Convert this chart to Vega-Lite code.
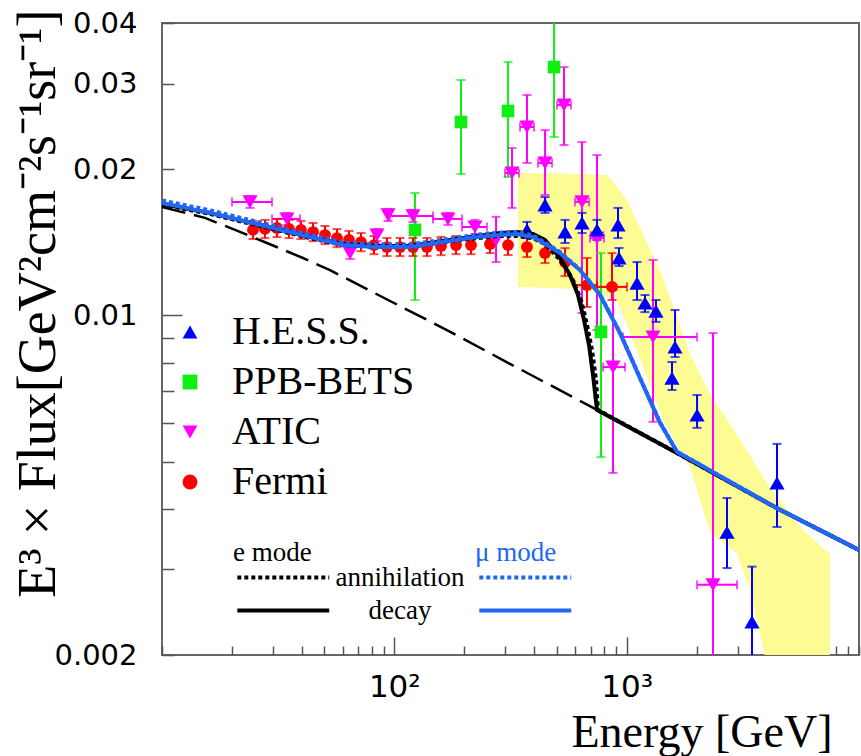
{
  "$schema": "https://vega.github.io/schema/vega-lite/v6.json",
  "width": 697,
  "height": 632,
  "autosize": {"type": "none"},
  "padding": {"left": 162, "top": 23, "right": 2, "bottom": 101},
  "background": "white",
  "datasets": {
    "band": [
      {"E": 340.7, "top": 0.01965, "bot": 0.01145},
      {"E": 629.8, "top": 0.01955, "bot": 0.01134},
      {"E": 823.0, "top": 0.01946, "bot": 0.01097},
      {"E": 908.8, "top": 0.01839, "bot": 0.01076},
      {"E": 1003, "top": 0.01729, "bot": 0.00956},
      {"E": 1224, "top": 0.01410, "bot": 0.00747},
      {"E": 1434, "top": 0.01194, "bot": 0.00609},
      {"E": 1697, "top": 0.00956, "bot": 0.00528},
      {"E": 1873, "top": 0.00833, "bot": 0.00488},
      {"E": 2285, "top": 0.00689, "bot": 0.00357},
      {"E": 2985, "top": 0.00568, "bot": 0.00324},
      {"E": 3396, "top": 0.00514, "bot": 0.00272},
      {"E": 3938, "top": 0.00458, "bot": 0.00199},
      {"E": 5574, "top": 0.00367, "bot": 0.00106},
      {"E": 7140, "top": 0.00329, "bot": 0.00079},
      {"E": 7505, "top": 0.00324, "bot": 0.00076}
    ],
    "points": [
      {"exp": "Fermi", "E": 24.64, "F": 0.01500, "lo": 0.01437, "hi": 0.01566},
      {"exp": "Fermi", "E": 27.75, "F": 0.01507, "lo": 0.01443, "hi": 0.01573},
      {"exp": "Fermi", "E": 31.26, "F": 0.01514, "lo": 0.01450, "hi": 0.01581},
      {"exp": "Fermi", "E": 35.21, "F": 0.01507, "lo": 0.01443, "hi": 0.01573},
      {"exp": "Fermi", "E": 39.65, "F": 0.01500, "lo": 0.01437, "hi": 0.01566},
      {"exp": "Fermi", "E": 44.67, "F": 0.01485, "lo": 0.01422, "hi": 0.01550},
      {"exp": "Fermi", "E": 50.29, "F": 0.01464, "lo": 0.01402, "hi": 0.01528},
      {"exp": "Fermi", "E": 56.64, "F": 0.01443, "lo": 0.01382, "hi": 0.01506},
      {"exp": "Fermi", "E": 63.81, "F": 0.01430, "lo": 0.01370, "hi": 0.01493},
      {"exp": "Fermi", "E": 71.87, "F": 0.01416, "lo": 0.01356, "hi": 0.01478},
      {"exp": "Fermi", "E": 81.75, "F": 0.01396, "lo": 0.01337, "hi": 0.01457},
      {"exp": "Fermi", "E": 92.98, "F": 0.01383, "lo": 0.01325, "hi": 0.01444},
      {"exp": "Fermi", "E": 105.8, "F": 0.01383, "lo": 0.01325, "hi": 0.01444},
      {"exp": "Fermi", "E": 120.3, "F": 0.01383, "lo": 0.01325, "hi": 0.01444},
      {"exp": "Fermi", "E": 138.2, "F": 0.01383, "lo": 0.01325, "hi": 0.01444},
      {"exp": "Fermi", "E": 158.8, "F": 0.01390, "lo": 0.01331, "hi": 0.01451},
      {"exp": "Fermi", "E": 184.3, "F": 0.01396, "lo": 0.01337, "hi": 0.01457},
      {"exp": "Fermi", "E": 213.8, "F": 0.01396, "lo": 0.01337, "hi": 0.01457},
      {"exp": "Fermi", "E": 258.1, "F": 0.01403, "lo": 0.01344, "hi": 0.01465},
      {"exp": "Fermi", "E": 308.6, "F": 0.01396, "lo": 0.01332, "hi": 0.01464},
      {"exp": "Fermi", "E": 372.4, "F": 0.01383, "lo": 0.01319, "hi": 0.01450},
      {"exp": "Fermi", "E": 445.3, "F": 0.01344, "lo": 0.01282, "hi": 0.01409},
      {"exp": "Fermi", "E": 542.8, "F": 0.01288, "lo": 0.01205, "hi": 0.01376},
      {"exp": "Fermi", "E": 675.0, "F": 0.01155, "lo": 0.01041, "hi": 0.01313, "xlo": 600, "xhi": 745},
      {"exp": "Fermi", "E": 864.9, "F": 0.01145, "lo": 0.01076, "hi": 0.01344, "xlo": 745, "xhi": 1003},
      {"exp": "ATIC", "E": 23.92, "F": 0.01713, "lo": 0.01665, "hi": 0.01762, "xlo": 20.01, "xhi": 29.75},
      {"exp": "ATIC", "E": 34.52, "F": 0.01580, "lo": 0.01536, "hi": 0.01626, "xlo": 29.75, "xhi": 39.26},
      {"exp": "ATIC", "E": 64.45, "F": 0.01344, "lo": 0.01307, "hi": 0.01383},
      {"exp": "ATIC", "E": 84.22, "F": 0.01464, "lo": 0.01423, "hi": 0.01507},
      {"exp": "ATIC", "E": 93.91, "F": 0.01611, "lo": 0.01565, "hi": 0.01657},
      {"exp": "ATIC", "E": 120.3, "F": 0.01603, "lo": 0.01558, "hi": 0.01650, "xlo": 95.81, "xhi": 146.7},
      {"exp": "ATIC", "E": 170.2, "F": 0.01580, "lo": 0.01536, "hi": 0.01626, "xlo": 146.7, "xhi": 195.5},
      {"exp": "ATIC", "E": 222.4, "F": 0.01521, "lo": 0.01471, "hi": 0.01573, "xlo": 195.5, "xhi": 250.6},
      {"exp": "ATIC", "E": 274.0, "F": 0.01430, "lo": 0.01288, "hi": 0.01596},
      {"exp": "ATIC", "E": 321.0, "F": 0.01965, "lo": 0.01665, "hi": 0.02211, "xlo": 299.4, "xhi": 344.1},
      {"exp": "ATIC", "E": 372.4, "F": 0.02443, "lo": 0.02060, "hi": 0.02843, "xlo": 347.4, "xhi": 399.2},
      {"exp": "ATIC", "E": 445.3, "F": 0.02060, "lo": 0.01770, "hi": 0.02408, "xlo": 415.4, "xhi": 477.4},
      {"exp": "ATIC", "E": 537.5, "F": 0.02712, "lo": 0.02243, "hi": 0.03246, "xlo": 501.4, "xhi": 576.2},
      {"exp": "ATIC", "E": 642.4, "F": 0.01713, "lo": 0.01012, "hi": 0.02275, "xlo": 599.3, "xhi": 688.7},
      {"exp": "ATIC", "E": 745.3, "F": 0.01443, "lo": 0.00933, "hi": 0.02139, "xlo": 695.2, "xhi": 799.0},
      {"exp": "ATIC", "E": 873.5, "F": 0.00783, "lo": 0.00474, "hi": 0.01128, "xlo": 791.0, "xhi": 983.6},
      {"exp": "ATIC", "E": 1298, "F": 0.00903, "lo": 0.00604, "hi": 0.01301, "xlo": 964.4, "xhi": 2009},
      {"exp": "ATIC", "E": 2353, "F": 0.00279, "lo": 0.0015, "hi": 0.00920, "xlo": 2009, "xhi": 2985},
      {"exp": "PPB-BETS", "E": 122.7, "F": 0.01500, "lo": 0.01076, "hi": 0.01787},
      {"exp": "PPB-BETS", "E": 193.6, "F": 0.02502, "lo": 0.01955, "hi": 0.03053},
      {"exp": "PPB-BETS", "E": 308.6, "F": 0.02636, "lo": 0.01928, "hi": 0.03324},
      {"exp": "PPB-BETS", "E": 486.9, "F": 0.03246, "lo": 0.02330, "hi": 0.0415},
      {"exp": "PPB-BETS", "E": 775.5, "F": 0.00925, "lo": 0.00511, "hi": 0.01344},
      {"exp": "H.E.S.S.", "E": 372.4, "F": 0.01500, "lo": 0.01443, "hi": 0.01558},
      {"exp": "H.E.S.S.", "E": 445.3, "F": 0.01689, "lo": 0.01626, "hi": 0.01753},
      {"exp": "H.E.S.S.", "E": 542.8, "F": 0.01485, "lo": 0.01410, "hi": 0.01573},
      {"exp": "H.E.S.S.", "E": 642.4, "F": 0.01551, "lo": 0.01478, "hi": 0.01626},
      {"exp": "H.E.S.S.", "E": 745.3, "F": 0.01500, "lo": 0.01430, "hi": 0.01573},
      {"exp": "H.E.S.S.", "E": 917.9, "F": 0.01536, "lo": 0.01443, "hi": 0.01665},
      {"exp": "H.E.S.S.", "E": 926.9, "F": 0.01313, "lo": 0.01264, "hi": 0.01377},
      {"exp": "H.E.S.S.", "E": 1108, "F": 0.01166, "lo": 0.01076, "hi": 0.01288},
      {"exp": "H.E.S.S.", "E": 1199, "F": 0.01061, "lo": 0.01016, "hi": 0.01102},
      {"exp": "H.E.S.S.", "E": 1337, "F": 0.01021, "lo": 0.00970, "hi": 0.01076},
      {"exp": "H.E.S.S.", "E": 1615, "F": 0.00861, "lo": 0.00821, "hi": 0.01026},
      {"exp": "H.E.S.S.", "E": 1567, "F": 0.00743, "lo": 0.00702, "hi": 0.00802},
      {"exp": "H.E.S.S.", "E": 2009, "F": 0.00624, "lo": 0.00587, "hi": 0.00686},
      {"exp": "H.E.S.S.", "E": 2703, "F": 0.00358, "lo": 0.00302, "hi": 0.00421},
      {"exp": "H.E.S.S.", "E": 3463, "F": 0.00234, "lo": 0.0016, "hi": 0.00304},
      {"exp": "H.E.S.S.", "E": 4437, "F": 0.00452, "lo": 0.00367, "hi": 0.00544}
    ],
    "curves": [
      {"m": "bg", "E": 10, "F": 0.01673},
      {"m": "bg", "E": 15.31, "F": 0.01588},
      {"m": "bg", "E": 20.62, "F": 0.01500},
      {"m": "bg", "E": 28.30, "F": 0.01410},
      {"m": "bg", "E": 40.44, "F": 0.01313},
      {"m": "bg", "E": 52.85, "F": 0.01240},
      {"m": "bg", "E": 95.81, "F": 0.01071},
      {"m": "bg", "E": 162.0, "F": 0.00942},
      {"m": "bg", "E": 308.6, "F": 0.00799},
      {"m": "bg", "E": 745.3, "F": 0.00639},
      {"m": "e", "type": "annihilation", "E": 10, "F": 0.01690},
      {"m": "e", "type": "annihilation", "E": 16.09, "F": 0.01618},
      {"m": "e", "type": "annihilation", "E": 26.41, "F": 0.01528},
      {"m": "e", "type": "annihilation", "E": 43.36, "F": 0.01443},
      {"m": "e", "type": "annihilation", "E": 60.12, "F": 0.01396},
      {"m": "e", "type": "annihilation", "E": 84.22, "F": 0.01383},
      {"m": "e", "type": "annihilation", "E": 116.8, "F": 0.01383},
      {"m": "e", "type": "annihilation", "E": 162.0, "F": 0.01416},
      {"m": "e", "type": "annihilation", "E": 226.9, "F": 0.01443},
      {"m": "e", "type": "annihilation", "E": 285.0, "F": 0.01457},
      {"m": "e", "type": "annihilation", "E": 337.3, "F": 0.01457},
      {"m": "e", "type": "annihilation", "E": 395.3, "F": 0.01443},
      {"m": "e", "type": "annihilation", "E": 445.3, "F": 0.01403},
      {"m": "e", "type": "annihilation", "E": 516.7, "F": 0.01301},
      {"m": "e", "type": "annihilation", "E": 581.8, "F": 0.01194},
      {"m": "e", "type": "annihilation", "E": 636.1, "F": 0.01076},
      {"m": "e", "type": "annihilation", "E": 675.0, "F": 0.00956},
      {"m": "e", "type": "annihilation", "E": 709.3, "F": 0.00849},
      {"m": "e", "type": "annihilation", "E": 737.9, "F": 0.00737},
      {"m": "e", "type": "annihilation", "E": 752.8, "F": 0.00639},
      {"m": "e", "type": "annihilation", "E": 1647, "F": 0.00521},
      {"m": "e", "type": "annihilation", "E": 4437, "F": 0.00401},
      {"m": "e", "type": "annihilation", "E": 10000, "F": 0.00329},
      {"m": "e", "type": "decay", "E": 10, "F": 0.01697},
      {"m": "e", "type": "decay", "E": 16.09, "F": 0.01626},
      {"m": "e", "type": "decay", "E": 26.41, "F": 0.01536},
      {"m": "e", "type": "decay", "E": 43.36, "F": 0.01450},
      {"m": "e", "type": "decay", "E": 60.12, "F": 0.01403},
      {"m": "e", "type": "decay", "E": 84.22, "F": 0.01390},
      {"m": "e", "type": "decay", "E": 116.8, "F": 0.01390},
      {"m": "e", "type": "decay", "E": 162.0, "F": 0.01423},
      {"m": "e", "type": "decay", "E": 226.9, "F": 0.01457},
      {"m": "e", "type": "decay", "E": 285.0, "F": 0.01478},
      {"m": "e", "type": "decay", "E": 337.3, "F": 0.01485},
      {"m": "e", "type": "decay", "E": 395.3, "F": 0.01471},
      {"m": "e", "type": "decay", "E": 445.3, "F": 0.01430},
      {"m": "e", "type": "decay", "E": 516.7, "F": 0.01313},
      {"m": "e", "type": "decay", "E": 570.4, "F": 0.01211},
      {"m": "e", "type": "decay", "E": 617.4, "F": 0.01102},
      {"m": "e", "type": "decay", "E": 655.3, "F": 0.00979},
      {"m": "e", "type": "decay", "E": 688.6, "F": 0.00869},
      {"m": "e", "type": "decay", "E": 716.4, "F": 0.00754},
      {"m": "e", "type": "decay", "E": 745.3, "F": 0.00639},
      {"m": "e", "type": "decay", "E": 1647, "F": 0.00521},
      {"m": "e", "type": "decay", "E": 4437, "F": 0.00401},
      {"m": "e", "type": "decay", "E": 10000, "F": 0.00329},
      {"m": "mu", "type": "annihilation", "E": 10, "F": 0.01725},
      {"m": "mu", "type": "annihilation", "E": 16.09, "F": 0.01646},
      {"m": "mu", "type": "annihilation", "E": 26.41, "F": 0.01554},
      {"m": "mu", "type": "annihilation", "E": 43.36, "F": 0.01467},
      {"m": "mu", "type": "annihilation", "E": 60.12, "F": 0.01413},
      {"m": "mu", "type": "annihilation", "E": 84.22, "F": 0.01400},
      {"m": "mu", "type": "annihilation", "E": 116.8, "F": 0.01400},
      {"m": "mu", "type": "annihilation", "E": 162.0, "F": 0.01433},
      {"m": "mu", "type": "annihilation", "E": 226.9, "F": 0.01467},
      {"m": "mu", "type": "annihilation", "E": 285.0, "F": 0.01481},
      {"m": "mu", "type": "annihilation", "E": 337.3, "F": 0.01487},
      {"m": "mu", "type": "annihilation", "E": 395.3, "F": 0.01462},
      {"m": "mu", "type": "annihilation", "E": 454.2, "F": 0.01404},
      {"m": "mu", "type": "annihilation", "E": 516.7, "F": 0.01350},
      {"m": "mu", "type": "annihilation", "E": 629.8, "F": 0.01243},
      {"m": "mu", "type": "annihilation", "E": 767.9, "F": 0.01104},
      {"m": "mu", "type": "annihilation", "E": 936.2, "F": 0.00921},
      {"m": "mu", "type": "annihilation", "E": 1141, "F": 0.00744},
      {"m": "mu", "type": "annihilation", "E": 1392, "F": 0.00602},
      {"m": "mu", "type": "annihilation", "E": 1647, "F": 0.00524},
      {"m": "mu", "type": "annihilation", "E": 4437, "F": 0.00401},
      {"m": "mu", "type": "annihilation", "E": 10000, "F": 0.00329},
      {"m": "mu", "type": "decay", "E": 10, "F": 0.01705},
      {"m": "mu", "type": "decay", "E": 16.09, "F": 0.01626},
      {"m": "mu", "type": "decay", "E": 26.41, "F": 0.01536},
      {"m": "mu", "type": "decay", "E": 43.36, "F": 0.01450},
      {"m": "mu", "type": "decay", "E": 60.12, "F": 0.01396},
      {"m": "mu", "type": "decay", "E": 84.22, "F": 0.01383},
      {"m": "mu", "type": "decay", "E": 116.8, "F": 0.01383},
      {"m": "mu", "type": "decay", "E": 162.0, "F": 0.01416},
      {"m": "mu", "type": "decay", "E": 226.9, "F": 0.01450},
      {"m": "mu", "type": "decay", "E": 285.0, "F": 0.01464},
      {"m": "mu", "type": "decay", "E": 337.3, "F": 0.01471},
      {"m": "mu", "type": "decay", "E": 395.3, "F": 0.01450},
      {"m": "mu", "type": "decay", "E": 454.2, "F": 0.01396},
      {"m": "mu", "type": "decay", "E": 516.7, "F": 0.01344},
      {"m": "mu", "type": "decay", "E": 629.8, "F": 0.01240},
      {"m": "mu", "type": "decay", "E": 767.9, "F": 0.01102},
      {"m": "mu", "type": "decay", "E": 936.2, "F": 0.00920},
      {"m": "mu", "type": "decay", "E": 1141, "F": 0.00743},
      {"m": "mu", "type": "decay", "E": 1392, "F": 0.00601},
      {"m": "mu", "type": "decay", "E": 1647, "F": 0.00524},
      {"m": "mu", "type": "decay", "E": 4437, "F": 0.00401},
      {"m": "mu", "type": "decay", "E": 10000, "F": 0.00329}
    ]
  },
  "layer": [
    {
      "data": {"name": "band"},
      "mark": {"type": "area", "color": "#fdfb94", "clip": true},
      "encoding": {
        "x": {
          "field": "E", "type": "quantitative",
          "scale": {"type": "log", "domain": [10, 10000], "nice": false},
          "axis": {
            "title": "Energy [GeV]",
            "titleFont": "Liberation Serif", "titleFontSize": 46, "titleFontWeight": "normal", "titleColor": "black",
            "titleX": 670, "titleY": 91, "titleAlign": "right", "titleBaseline": "alphabetic", "titleAnchor": "end",
            "values": [10, 20, 30, 40, 50, 60, 70, 80, 90, 100, 200, 300, 400, 500, 600, 700, 800, 900, 1000, 2000, 3000, 4000, 5000, 6000, 7000, 8000, 9000, 10000],
            "labelExpr": "datum.value == 100 ? '10²' : datum.value == 1000 ? '10³' : ''",
            "labelFont": "DejaVu Sans", "labelFontSize": 31, "labelColor": "black",
            "labelOverlap": false, "labelFlush": false,
            "tickSize": {"condition": {"test": "datum.value == 100 || datum.value == 1000", "value": -18}, "value": -9},
            "labelPadding": {"condition": {"test": "datum.value == 100 || datum.value == 1000", "value": 35}, "value": 26},
            "domain": false, "grid": false, "tickColor": "#555", "tickWidth": 1.5
          }
        },
        "y": {
          "field": "top", "type": "quantitative",
          "scale": {"type": "log", "domain": [0.002, 0.04], "nice": false},
          "axis": {
            "title": "E³ × Flux[GeV²cm⁻²s⁻¹sr⁻¹]",
            "titleFont": "Liberation Serif", "titleFontSize": 54, "titleFontWeight": "normal", "titleColor": "black",
            "titleX": -108, "titleY": -14, "titleAlign": "right", "titleAngle": 270, "titleBaseline": "alphabetic",
            "values": [0.002, 0.003, 0.004, 0.005, 0.006, 0.007, 0.008, 0.009, 0.01, 0.02, 0.03, 0.04],
            "labelExpr": "datum.value == 0.002 ? '0.002' : datum.value == 0.01 ? '0.01' : datum.value == 0.02 ? '0.02' : datum.value == 0.03 ? '0.03' : datum.value == 0.04 ? '0.04' : ''",
            "labelFont": "DejaVu Sans", "labelFontSize": 29, "labelColor": "black",
            "labelOverlap": false, "labelFlush": false,
            "tickSize": {"condition": {"test": "datum.value == 0.01", "value": -20}, "value": -12},
            "labelPadding": {"condition": {"test": "datum.value == 0.01", "value": 45}, "value": 37},
            "domain": false, "grid": false, "tickColor": "#555", "tickWidth": 1.5
          }
        },
        "y2": {"field": "bot"}
      }
    },
    {
      "data": {"name": "points"},
      "mark": {"type": "rule", "strokeWidth": 2, "clip": true},
      "encoding": {
        "x": {"field": "E", "type": "quantitative"},
        "y": {"field": "lo", "type": "quantitative"},
        "y2": {"field": "hi"},
        "stroke": {"condition": [{"test": "datum.exp == 'H.E.S.S.'", "value": "#0000ff"}, {"test": "datum.exp == 'PPB-BETS'", "value": "#11ee11"}, {"test": "datum.exp == 'ATIC'", "value": "#ff00ff"}], "value": "#ff0000"}
      }
    },
    {
      "data": {"name": "points"},
      "transform": [{"filter": "isValid(datum.xlo)"}],
      "mark": {"type": "rule", "strokeWidth": 2, "clip": true},
      "encoding": {
        "x": {"field": "xlo", "type": "quantitative"},
        "x2": {"field": "xhi"},
        "y": {"field": "F", "type": "quantitative"},
        "stroke": {"condition": [{"test": "datum.exp == 'H.E.S.S.'", "value": "#0000ff"}, {"test": "datum.exp == 'PPB-BETS'", "value": "#11ee11"}, {"test": "datum.exp == 'ATIC'", "value": "#ff00ff"}], "value": "#ff0000"}
      }
    },
    {
      "data": {"name": "points"},
      "transform": [{"fold": ["lo", "hi"], "as": ["k", "v"]}],
      "mark": {"type": "tick", "orient": "horizontal", "size": 9, "thickness": 2, "clip": true},
      "encoding": {
        "x": {"field": "E", "type": "quantitative"},
        "y": {"field": "v", "type": "quantitative"},
        "fill": {"condition": [{"test": "datum.exp == 'H.E.S.S.'", "value": "#0000ff"}, {"test": "datum.exp == 'PPB-BETS'", "value": "#11ee11"}, {"test": "datum.exp == 'ATIC'", "value": "#ff00ff"}], "value": "#ff0000"}
      }
    },
    {
      "data": {"name": "points"},
      "transform": [{"filter": "isValid(datum.xlo)"}, {"fold": ["xlo", "xhi"], "as": ["k", "v"]}],
      "mark": {"type": "tick", "orient": "vertical", "size": 9, "thickness": 2, "clip": true},
      "encoding": {
        "x": {"field": "v", "type": "quantitative"},
        "y": {"field": "F", "type": "quantitative"},
        "fill": {"condition": [{"test": "datum.exp == 'H.E.S.S.'", "value": "#0000ff"}, {"test": "datum.exp == 'PPB-BETS'", "value": "#11ee11"}, {"test": "datum.exp == 'ATIC'", "value": "#ff00ff"}], "value": "#ff0000"}
      }
    },
    {
      "data": {"name": "points"},
      "mark": {"type": "point", "filled": true, "opacity": 1, "clip": true},
      "encoding": {
        "x": {"field": "E", "type": "quantitative"},
        "y": {"field": "F", "type": "quantitative"},
        "size": {"condition": [{"test": "datum.exp == 'Fermi'", "value": 140}, {"test": "datum.exp == 'PPB-BETS'", "value": 160}], "value": 230},
        "color": {
          "field": "exp", "type": "nominal",
          "scale": {"domain": ["H.E.S.S.", "PPB-BETS", "ATIC", "Fermi"], "range": ["#0000ff", "#11ee11", "#ff00ff", "#ff0000"]},
          "legend": {"title": null, "orient": "none", "legendX": 8, "legendY": 289, "padding": 0, "labelFont": "Liberation Serif", "labelFontSize": 40, "labelColor": "black", "symbolSize": 220, "symbolStrokeWidth": 0, "labelOffset": 22, "rowPadding": 10, "labelLimit": 400}
        },
        "shape": {
          "field": "exp", "type": "nominal",
          "scale": {"domain": ["H.E.S.S.", "PPB-BETS", "ATIC", "Fermi"], "range": ["triangle-up", "square", "triangle-down", "circle"]},
          "legend": {"title": null, "orient": "none", "legendX": 8, "legendY": 289, "padding": 0, "labelFont": "Liberation Serif", "labelFontSize": 40, "labelColor": "black", "symbolSize": 220, "symbolStrokeWidth": 0, "labelOffset": 22, "rowPadding": 10, "labelLimit": 400}
        }
      }
    },
    {
      "data": {"name": "curves"},
      "transform": [{"filter": "datum.m == 'bg'"}],
      "mark": {"type": "line", "color": "black", "strokeWidth": 2.5, "strokeDash": [24, 9], "clip": true},
      "encoding": {
        "x": {"field": "E", "type": "quantitative"},
        "y": {"field": "F", "type": "quantitative"}
      }
    },
    {
      "data": {"name": "curves"},
      "transform": [{"filter": "datum.m == 'e'"}],
      "mark": {"type": "line", "color": "black", "strokeWidth": 4, "clip": true},
      "encoding": {
        "x": {"field": "E", "type": "quantitative"},
        "y": {"field": "F", "type": "quantitative"},
        "strokeDash": {
          "field": "type", "type": "nominal",
          "scale": {"domain": ["annihilation", "decay"], "range": [[4, 3], [1, 0]]},
          "legend": {"title": "e mode", "orient": "none", "legendX": 71, "legendY": 517, "padding": 0, "symbolType": "M-1,0H9", "symbolSize": 338, "symbolStrokeWidth": 4, "symbolStrokeColor": "black", "labelFont": "Liberation Serif", "labelFontSize": 27, "labelColor": "black", "labelAlign": "center", "labelOffset": 140, "titleFont": "Liberation Serif", "titleFontSize": 27, "titleFontWeight": "normal", "titleColor": "black", "titlePadding": -3, "rowPadding": 5}
        }
      }
    },
    {
      "data": {"name": "curves"},
      "transform": [{"filter": "datum.m == 'mu'"}],
      "mark": {"type": "line", "color": "#2166f5", "strokeWidth": 4, "clip": true},
      "encoding": {
        "x": {"field": "E", "type": "quantitative"},
        "y": {"field": "F", "type": "quantitative"},
        "strokeDash": {
          "field": "type", "type": "nominal",
          "scale": {"domain": ["annihilation", "decay"], "range": [[4, 3], [1, 0]]},
          "legend": {"title": "μ mode", "orient": "none", "legendX": 313, "legendY": 517, "padding": 0, "symbolType": "M-1,0H9", "symbolSize": 338, "symbolStrokeWidth": 4, "symbolStrokeColor": "#2166f5", "labelFontSize": 27, "labelExpr": "''", "titleFont": "Liberation Serif", "titleFontSize": 27, "titleFontWeight": "normal", "titleColor": "#2166f5", "titlePadding": -3, "rowPadding": 5}
        }
      }
    }
  ],
  "resolve": {"scale": {"strokeDash": "independent"}, "legend": {"strokeDash": "independent"}},
  "config": {
    "font": "Liberation Serif",
    "legend": {"labelFont": "Liberation Serif", "titleFont": "Liberation Serif"},
    "view": {"stroke": "#666", "strokeWidth": 2}
  }
}
